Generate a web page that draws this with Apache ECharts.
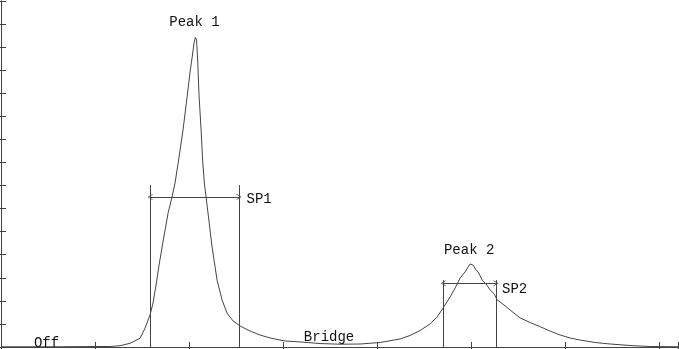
<!DOCTYPE html>
<html>
<head>
<meta charset="utf-8">
<script src="https://cdn.jsdelivr.net/npm/echarts@6/dist/echarts.min.js"></script>
<style>html,body{margin:0;padding:0;background:#fff;}#c{width:679px;height:349px;}</style>
</head>
<body>
<div id="c"></div>
<script>
// Spectrum trace (x in axis units 0..720, y in axis units 0..1500)
const xVals = [0, 62.8, 105.3, 116, 126.6, 137.2, 147.9, 153.2, 158.5, 161.7, 164.9, 168.1, 171.3, 174.5, 177.7, 181.9, 185.1, 189.4, 193.6, 197.9, 201.1, 203.2, 205.3, 206.7, 208, 209.3, 210.6, 212.8, 214.4, 216.3, 218.1, 221.3, 224.5, 229.8, 235.1, 240.4, 246.8, 254.3, 264.9, 275.5, 286.2, 302.1, 318.1, 339.4, 360.6, 381.9, 403.2, 424.5, 435.1, 445.7, 456.4, 463.8, 470.2, 477.7, 483, 488.3, 493.6, 496.8, 498.9, 500.7, 502.1, 503.2, 505.3, 507.4, 509.6, 511.7, 513.8, 515.9, 518.1, 520.2, 522.3, 524.5, 527.7, 530.9, 536.2, 541.5, 546.8, 552.1, 562.8, 573.4, 584, 594.7, 605.3, 616, 631.9, 647.9, 669.1, 690.4, 720];
const yVals = [1, 1, 2.2, 2.2, 5.6, 16, 37.7, 82, 139, 191, 269, 355, 433, 507, 581, 650, 711, 824, 941, 1084, 1192, 1253, 1318, 1342, 1331, 1231, 1092, 941, 811, 711, 650, 542, 433, 290, 204, 147, 113, 91, 69, 52, 39, 26, 22, 15, 12, 13, 19.5, 35, 50, 71.5, 100, 130, 169, 217, 256, 299, 326, 347, 360, 365, 355, 360, 334, 325, 308, 290, 290, 273, 260, 247, 251, 230, 204, 195, 178, 160, 143, 126, 106, 88, 69, 52, 39, 30, 19.5, 13, 6.5, 2.2, 1];

// Window markers: [left, right, top of markers, arrow height]
const sp1 = [158.5, 253.2, 702, 650];
const sp2 = [470.4, 526.4, 290, 276];

// Text annotations
const labelTexts = ['Peak 1', 'Peak 2', 'SP1', 'SP2', 'Off', 'Bridge'];
const labelX = [205.8, 497.9, 274.5, 546.3, 48.4, 348.9];
const labelY = [1409, 420, 642, 251, 17, 43];

const chart = echarts.init(document.getElementById('c'));
const lineColor = '#444';
const font = 'Liberation Mono, Courier New, monospace';

const curve = xVals.map((x, i) => [x, yVals[i]]);

function windowLines(w) {
  return [
    [{coord: [w[0], w[2]]}, {coord: [w[0], 0]}],
    [{coord: [w[1], w[2]]}, {coord: [w[1], 0]}]
  ];
}
function arrowLine(w) {
  return [[{coord: [w[0], w[3]]}, {coord: [w[1], w[3]]}]];
}

const axisCommon = {
  axisLine: {show: true, lineStyle: {color: lineColor, width: 1}},
  axisTick: {show: true, inside: true, length: 5, lineStyle: {color: lineColor, width: 1}},
  axisLabel: {show: false},
  splitLine: {show: false}
};

const chevron = 'path://M5,0 L10,10 L8.8,10 L5,2.4 L1.2,10 L0,10 Z';

const option = {
  animation: false,
  backgroundColor: '#fff',
  grid: {left: 1, right: 1, top: 1, bottom: 2, containLabel: false, outerBoundsMode: 'none'},
  xAxis: [
    Object.assign({type: 'value', min: 0, max: 720, interval: 100, position: 'bottom'}, axisCommon),
    Object.assign({type: 'value', min: 0, max: 720, interval: 100, position: 'top'}, axisCommon)
  ],
  yAxis: [
    Object.assign({type: 'value', min: 0, max: 1500, interval: 100, position: 'left'}, axisCommon),
    Object.assign({type: 'value', min: 0, max: 1500, interval: 100, position: 'right'}, axisCommon)
  ],
  series: [
    {
      type: 'line',
      data: curve,
      showSymbol: false,
      lineStyle: {color: lineColor, width: 1},
      silent: true,
      markLine: {
        silent: true,
        symbol: 'none',
        label: {show: false},
        lineStyle: {color: lineColor, width: 1, type: 'solid'},
        data: windowLines(sp1).concat(windowLines(sp2))
      },
      markPoint: {
        silent: true,
        symbol: 'circle',
        symbolSize: 0,
        label: {show: true, position: 'inside', color: '#111', fontFamily: font, fontSize: 14},
        data: labelTexts.map((t, i) => ({coord: [labelX[i], labelY[i]], value: t, label: {formatter: t}}))
      }
    },
    {
      type: 'line',
      data: [],
      silent: true,
      markLine: {
        silent: true,
        symbol: [chevron, chevron],
        symbolSize: [6, 5],
        label: {show: false},
        lineStyle: {color: lineColor, width: 1, type: 'solid'},
        data: arrowLine(sp1).concat(arrowLine(sp2))
      }
    }
  ]
};
chart.setOption(option);
</script>
</body>
</html>
